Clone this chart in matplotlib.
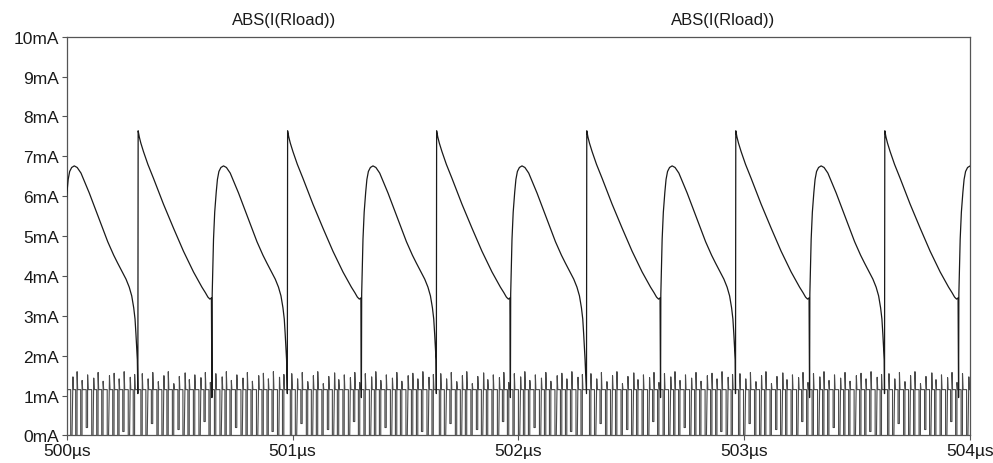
import matplotlib
matplotlib.use("Agg")
import matplotlib.pyplot as plt
import numpy as np

plt.rcParams["font.family"] = ["Liberation Sans", "DejaVu Sans"]

# ---- data (time in µs, current in mA) ----
# start times of each switching period (the tall 7.6 mA edges)
PERIOD_STARTS = [499.654, 500.315, 500.977, 501.637, 502.302, 502.962, 503.622]

# shape of the load current within one period (offset µs, mA)
WAVE_T = [0.0, 0.0013, 0.0066, 0.0133, 0.0248, 0.0443, 0.0691, 0.1135, 0.1578,
          0.2021, 0.2465, 0.2660, 0.2837, 0.2992, 0.3103, 0.3191, 0.3258, 0.3280,
          0.3293, 0.3324, 0.3351, 0.3404, 0.3471, 0.3524, 0.3590, 0.3679, 0.3794,
          0.3923, 0.4091, 0.4255, 0.4459, 0.4832, 0.5275, 0.5541, 0.5718, 0.5895,
          0.6086, 0.6228, 0.6339, 0.6427, 0.6485, 0.6525, 0.6560, 0.6587]
WAVE_I = [1.05, 7.64, 7.48, 7.33, 7.12, 6.80, 6.45, 5.80, 5.20,
          4.62, 4.10, 3.90, 3.72, 3.58, 3.47, 3.42, 3.45, 0.95,
          3.55, 4.30, 4.92, 5.60, 6.10, 6.42, 6.62, 6.72, 6.76,
          6.72, 6.58, 6.36, 6.08, 5.52, 4.86, 4.52, 4.32, 4.13,
          3.92, 3.72, 3.50, 3.20, 2.92, 2.55, 2.17, 1.90]

# fast ripple trace: pulse offsets within one period (µs), overshoot peaks and dips (mA)
PULSE_T = [0.0133, 0.0355, 0.0598, 0.0842, 0.1064, 0.1285, 0.1529, 0.1773, 0.1995,
           0.2216, 0.2460, 0.2704, 0.2926, 0.3147, 0.3391, 0.3635, 0.3856, 0.4078,
           0.4322, 0.4566, 0.4787, 0.5009, 0.5253, 0.5496, 0.5718, 0.5940, 0.6184,
           0.6405]
PULSE_PEAK = [1.55, 1.42, 1.58, 1.35, 1.50, 1.60, 1.30, 1.48, 1.57, 1.40, 1.52, 1.45,
              1.58, 1.33, 1.55, 1.47, 1.60, 1.38, 1.52, 1.44, 1.58, 1.36, 1.50, 1.56,
              1.42, 1.60, 1.46, 1.53]
PULSE_LOW = [0.0, 0.0, 0.3, 0.0, 0.0, 0.0, 0.0, 0.15, 0.0, 0.0, 0.0, 0.0, 0.35, 0.0,
             0.0, 0.0, 0.0, 0.0, 0.2, 0.0, 0.0, 0.0, 0.0, 0.0, 0.0, 0.1, 0.0, 0.0]
PULSE_RISE = [0.0003, 0.004, 0.0003, 0.0003, 0.003, 0.0003, 0.0003, 0.0003, 0.004,
              0.0003, 0.0003, 0.003, 0.0003, 0.0003, 0.0003, 0.004, 0.0003, 0.0003,
              0.0003, 0.003, 0.0003, 0.0003, 0.004, 0.0003, 0.0003, 0.0003, 0.003,
              0.0003]
BASE_I = 1.15

Y_TICKS = [0, 1, 2, 3, 4, 5, 6, 7, 8, 9, 10]
Y_LABELS = [f"{v}mA" for v in Y_TICKS]
X_TICKS = [500, 501, 502, 503, 504]
X_LABELS = [f"{v}µs" for v in X_TICKS]
TITLE = "ABS(I(Rload))"


def build_wave():
    t, i = [], []
    for t0 in PERIOD_STARTS:
        t.extend(t0 + np.array(WAVE_T))
        i.extend(WAVE_I)
    return np.array(t), np.array(i)


def build_ripple():
    t, i = [], []
    for t0 in PERIOD_STARTS:
        for tp, pk, lo, rs in zip(PULSE_T, PULSE_PEAK, PULSE_LOW, PULSE_RISE):
            s = t0 + tp
            t += [s, s + 0.0001, s + 0.006, s + 0.006 + rs, s + 0.0085 + rs]
            i += [BASE_I, lo, lo, pk, BASE_I]
    return np.array(t), np.array(i)


fig = plt.figure(figsize=(9.93, 4.64), dpi=100)
ax = fig.add_axes([0.0672, 0.0593, 0.9095, 0.8595])

rt, ri = build_ripple()
ax.plot(rt, ri, color="#4a4a4a", lw=0.8, zorder=2)
wt, wi = build_wave()
ax.plot(wt, wi, color="#1a1a1a", lw=0.9, zorder=3)

ax.set_xlim(500, 504)
ax.set_ylim(0, 10)
ax.set_xticks(X_TICKS)
ax.set_xticklabels(X_LABELS)
ax.set_yticks(Y_TICKS)
ax.set_yticklabels(Y_LABELS)
ax.tick_params(length=3.5, width=0.8, pad=2, labelsize=12.5, colors="#555555",
               labelcolor="#1a1a1a")
for sp in ax.spines.values():
    sp.set_color("#555555")
    sp.set_linewidth(0.9)

fig.text(283.7 / 993, 1 - 20 / 464, TITLE, ha="center", va="center", fontsize=12,
         color="#1a1a1a")
fig.text(723 / 993, 1 - 20 / 464, TITLE, ha="center", va="center", fontsize=12,
         color="#1a1a1a")

fig.savefig("out.png", dpi=100)
